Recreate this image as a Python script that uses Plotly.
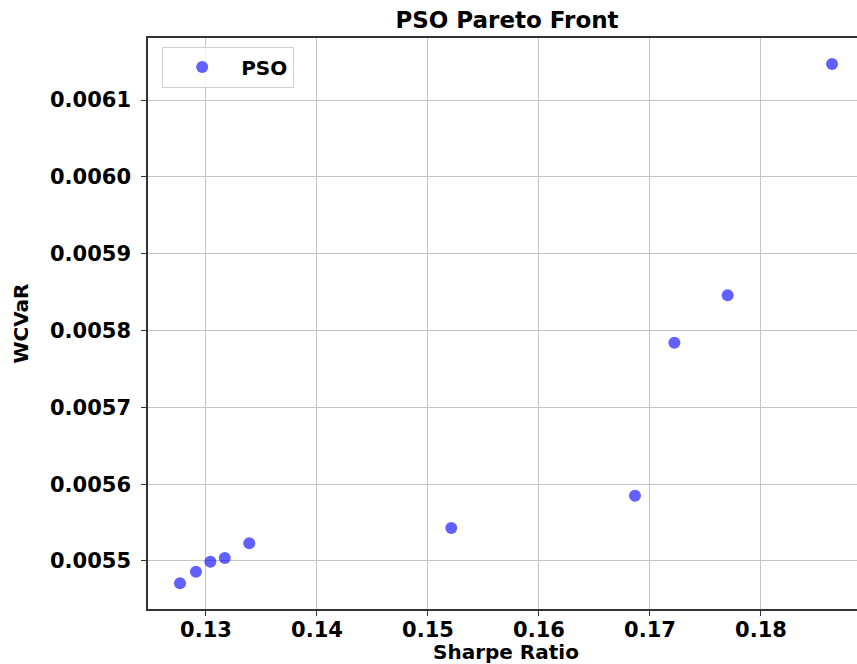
import plotly.graph_objects as go

sharpe = [0.12766, 0.1291, 0.1304, 0.1317, 0.1339, 0.1521, 0.16865, 0.1722, 0.1770, 0.1864]
wcvar = [0.005471, 0.005486, 0.005499, 0.005504, 0.005523, 0.005543, 0.005585, 0.005784, 0.005846, 0.006147]
x_ticks = [0.13, 0.14, 0.15, 0.16, 0.17, 0.18]
y_ticks = [0.0055, 0.0056, 0.0057, 0.0058, 0.0059, 0.0060, 0.0061]

FONT = "DejaVu Sans"

fig = go.Figure()
fig.add_trace(go.Scatter(
    x=sharpe, y=wcvar, mode="markers", name="<b>PSO</b>",
    marker=dict(color="rgba(0,0,255,0.62)", size=12, line=dict(width=0)),
))

fig.update_layout(
    width=857, height=664,
    margin=dict(l=148, r=0, t=38, b=55, autoexpand=False),
    paper_bgcolor="white", plot_bgcolor="white",
    font=dict(family=FONT, color="black", size=20),
    title=dict(text="<b>PSO Pareto Front</b>", font=dict(family=FONT, size=23, color="black"),
               xref="container", x=507/857, xanchor="center",
               yref="container", y=1 - 20/664, yanchor="middle"),
    showlegend=True,
    legend=dict(x=0.02, y=0.985, xanchor="left", yanchor="top",
                bordercolor="#d0d0d0", borderwidth=1, bgcolor="rgba(255,255,255,0.8)",
                font=dict(family=FONT, size=20, color="black"),
                itemsizing="constant", itemwidth=68, entrywidth=144),
    annotations=[
        dict(text="<b>Sharpe Ratio</b>", xref="paper", yref="paper", x=0.505, y=-0.075,
             xanchor="center", yanchor="middle", showarrow=False,
             font=dict(family=FONT, size=20, color="black")),
        dict(text="<b>WCVaR</b>", xref="paper", yref="paper", x=-0.1805, y=0.5,
             xanchor="center", yanchor="middle", showarrow=False, textangle=-90,
             font=dict(family=FONT, size=20, color="black")),
    ],
)
fig.update_xaxes(
    range=[0.12478, 0.18865], tickvals=x_ticks, ticktext=[f"<b>{v:.2f}</b>" for v in x_ticks],
    showgrid=True, gridcolor="#c4c4c4", gridwidth=1, automargin=False,
    showline=True, linecolor="#333333", linewidth=1.5, mirror=True,
    ticks="outside", ticklen=5, tickcolor="#333333", ticklabelstandoff=-4,
    tickfont=dict(family=FONT, size=21, color="black"),
    zeroline=False,
)
fig.update_yaxes(
    range=[0.0054375, 0.0061807], tickvals=y_ticks, ticktext=[f"<b>{v:.4f}</b>" for v in y_ticks],
    showgrid=True, gridcolor="#c4c4c4", gridwidth=1, automargin=False,
    showline=True, linecolor="#333333", linewidth=1.5, mirror=False,
    ticks="outside", ticklen=5, tickcolor="#333333", ticklabelstandoff=6,
    tickfont=dict(family=FONT, size=21, color="black"),
    zeroline=False,
)

fig.write_html("out.html", config={"displayModeBar": False},
               post_script="document.body.style.margin='0px';document.body.style.overflow='hidden';")
